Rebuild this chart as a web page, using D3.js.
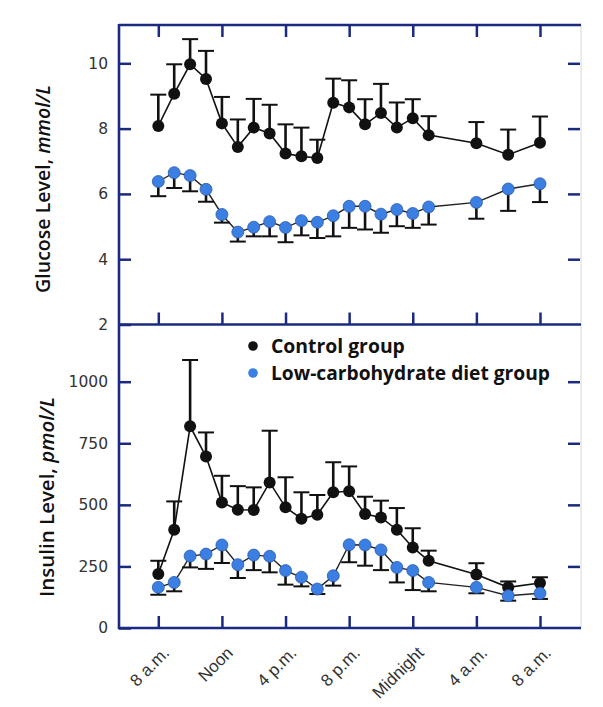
<!DOCTYPE html>
<html><head><meta charset="utf-8">
<script src="https://cdn.jsdelivr.net/npm/d3@7"></script>
<style>html,body{margin:0;padding:0;background:#fff;}svg{display:block;}</style>
</head><body>
<svg id="chart" width="603" height="707"></svg>
<script>
// ---- data ----
const hours = [0,1,2,3,4,5,6,7,8,9,10,11,12,13,14,15,16,17,20,22,24];
const xTickHours = [0,4,8,12,16,20,24];
const xTickLabels = ["8 a.m.","Noon","4 p.m.","8 p.m.","Midnight","4 a.m.","8 a.m."];

const glucoseTicks = [2,4,6,8,10];
const insulinTicks = [0,250,500,750,1000];

const glucoseControl    = [8.08,9.07,9.97,9.52,8.16,7.44,8.03,7.85,7.24,7.15,7.10,8.79,8.65,8.13,8.48,8.03,8.32,7.80,7.55,7.20,7.57];
const glucoseControlHi  = [9.04,9.97,10.74,10.38,8.97,8.28,8.91,8.73,8.13,8.03,7.66,9.53,9.48,8.90,9.37,8.80,8.90,8.38,8.20,7.97,8.37];
const glucoseLowCarb    = [6.38,6.65,6.56,6.14,5.37,4.83,4.98,5.15,4.97,5.18,5.13,5.33,5.62,5.62,5.38,5.52,5.40,5.60,5.74,6.15,6.31];
const glucoseLowCarbLo  = [5.93,6.18,6.08,5.76,5.12,4.54,4.70,4.70,4.52,4.73,4.65,4.70,4.96,4.91,4.81,5.01,4.96,5.06,5.24,5.48,5.75];

const insulinControl    = [219,399,819,696,510,480,479,591,490,444,460,551,555,463,449,399,327,273,217,165,183];
const insulinControlHi  = [273,514,1088,794,618,576,571,801,612,551,540,673,656,533,517,487,405,314,263,189,206];
const insulinLowCarb    = [165,185,292,300,337,257,296,291,233,206,158,212,338,337,317,246,233,185,165,131,141];
const insulinLowCarbLo  = [135,149,246,240,264,203,235,226,176,169,138,172,267,253,235,185,154,149,141,111,118];

const legendLabels = ["Control group","Low-carbohydrate diet group"];

// ---- layout / style ----
const frameColor = "#1b2a80";
const ctrlColor = "#111";
const lowColor = "#3b7fe3";
const L = 119, R = 581, T = 25, MID = 324.5, B = 628;

const svg = d3.select("#chart");
const x = d3.scaleLinear().domain([0,24]).range([158.3,540]);
const yG = d3.scaleLinear().domain([2,10]).range([MID,63.3]);
const yI = d3.scaleLinear().domain([0,1000]).range([B,381.7]);

const tickFont = "'DejaVu Sans', sans-serif";

function panel(yScale, ticks, yTop, yBot, showTopTicks, ctrl, ctrlHi, low, lowLo){
  const gl = svg.append("g").attr("transform",`translate(${L},0)`)
    .call(d3.axisLeft(yScale).tickValues(ticks).tickFormat(d3.format("d")).tickSizeInner(-12).tickSizeOuter(0).tickPadding(11));
  gl.select(".domain").remove();
  gl.selectAll(".tick line").attr("stroke",frameColor).attr("stroke-width",2.5);
  gl.selectAll(".tick text").attr("font-family",tickFont).attr("font-size",15.5).attr("fill","#333");
  const gr = svg.append("g").attr("transform",`translate(${R-1},0)`)
    .call(d3.axisRight(yScale).tickValues(ticks.filter(v=>yScale(v)>yTop+2 && yScale(v)<yBot-2)).tickSizeInner(-12).tickSizeOuter(0).tickFormat(""));
  gr.select(".domain").remove();
  gr.selectAll(".tick line").attr("stroke",frameColor).attr("stroke-width",2.5);
  if(showTopTicks){
    const gt = svg.append("g").attr("transform",`translate(0,${yTop})`)
      .call(d3.axisTop(x).tickValues(xTickHours).tickSizeInner(-12).tickSizeOuter(0).tickFormat(""));
    gt.select(".domain").remove();
    gt.selectAll(".tick line").attr("stroke",frameColor).attr("stroke-width",2.5);
  }
  const gb = svg.append("g").attr("transform",`translate(0,${yBot})`)
    .call(d3.axisBottom(x).tickValues(xTickHours).tickSizeInner(-12).tickSizeOuter(0).tickFormat(""));
  gb.select(".domain").remove();
  gb.selectAll(".tick line").attr("stroke",frameColor).attr("stroke-width",2.5);

  const g = svg.append("g");
  const line = d3.line().x((d,i)=>x(hours[i])).y(d=>yScale(d));
  g.append("path").datum(ctrl).attr("d",line).attr("fill","none").attr("stroke","#111").attr("stroke-width",1.6);
  g.append("path").datum(low).attr("d",line).attr("fill","none").attr("stroke","#222").attr("stroke-width",1.4);

  function errBars(vals, ends){
    const eb = g.append("g");
    vals.forEach((v,i)=>{
      const cx = x(hours[i]);
      eb.append("line").attr("x1",cx).attr("x2",cx).attr("y1",yScale(v)).attr("y2",yScale(ends[i]))
        .attr("stroke","#111").attr("stroke-width",2.6);
      eb.append("line").attr("x1",cx-8).attr("x2",cx+8).attr("y1",yScale(ends[i])).attr("y2",yScale(ends[i]))
        .attr("stroke","#111").attr("stroke-width",2);
    });
  }
  errBars(ctrl, ctrlHi);
  errBars(low, lowLo);

  g.selectAll("circle.c").data(ctrl).join("circle").attr("class","c")
    .attr("cx",(d,i)=>x(hours[i])).attr("cy",d=>yScale(d)).attr("r",6).attr("fill",ctrlColor);
  g.selectAll("circle.l").data(low).join("circle").attr("class","l")
    .attr("cx",(d,i)=>x(hours[i])).attr("cy",d=>yScale(d)).attr("r",6)
    .attr("fill",lowColor).attr("stroke","#2a5bb0").attr("stroke-width",0.8);
}

svg.append("line").attr("x1",R).attr("x2",R).attr("y1",T).attr("y2",B).attr("stroke","#d8d8d8").attr("stroke-width",1);

panel(yG, glucoseTicks, T, MID, true, glucoseControl, glucoseControlHi, glucoseLowCarb, glucoseLowCarbLo);
panel(yI, insulinTicks, MID, B, false, insulinControl, insulinControlHi, insulinLowCarb, insulinLowCarbLo);

const fr = svg.append("g").attr("stroke",frameColor).attr("stroke-width",2.6).attr("fill","none");
fr.append("line").attr("x1",L).attr("x2",L).attr("y1",T-1).attr("y2",B+1.3);
fr.append("line").attr("x1",L).attr("x2",R).attr("y1",T).attr("y2",T);
fr.append("line").attr("x1",L).attr("x2",R).attr("y1",MID).attr("y2",MID);
fr.append("line").attr("x1",L).attr("x2",R).attr("y1",B).attr("y2",B);

// x tick labels
svg.append("g").selectAll("text").data(xTickHours).join("text")
  .attr("transform",(d)=>`translate(${x(d)+12},${B+26}) rotate(-45)`)
  .attr("text-anchor","end")
  .attr("font-family","'Liberation Sans', Arial, sans-serif").attr("font-size",17).attr("fill","#333")
  .text((d,i)=>xTickLabels[i]);

function fitText(sel, target){
  const w = sel.node().getComputedTextLength();
  const fs = parseFloat(sel.attr("font-size"));
  sel.attr("font-size", fs*target/w);
}
function yTitle(cx, cy, main, unit, len){
  const t = svg.append("text").attr("transform",`translate(${cx},${cy}) rotate(-90)`)
    .attr("text-anchor","middle").attr("font-family","'Open Sans', sans-serif")
    .attr("font-weight",600).attr("font-size",17).attr("fill","#111");
  t.append("tspan").text(main);
  t.append("tspan").attr("font-style","italic").text(unit);
  fitText(t, len);
}
yTitle(50, 189, "Glucose Level, ", "mmol/L", 208);
yTitle(54, 497, "Insulin Level, ", "pmol/L", 200);

const legendWidths = [134, 279];
const leg = svg.append("g");
[ctrlColor, lowColor].forEach((c,i)=>{
  const yy = 346 + i*27;
  leg.append("circle").attr("cx",253).attr("cy",yy).attr("r",4.8).attr("fill",c);
  const t = leg.append("text").attr("x",271).attr("y",yy+6.5)
    .attr("font-family","'Open Sans', sans-serif").attr("font-weight",700)
    .attr("font-size",17).attr("fill","#111").text(legendLabels[i]);
  fitText(t, legendWidths[i]);
});
</script>
</body></html>
